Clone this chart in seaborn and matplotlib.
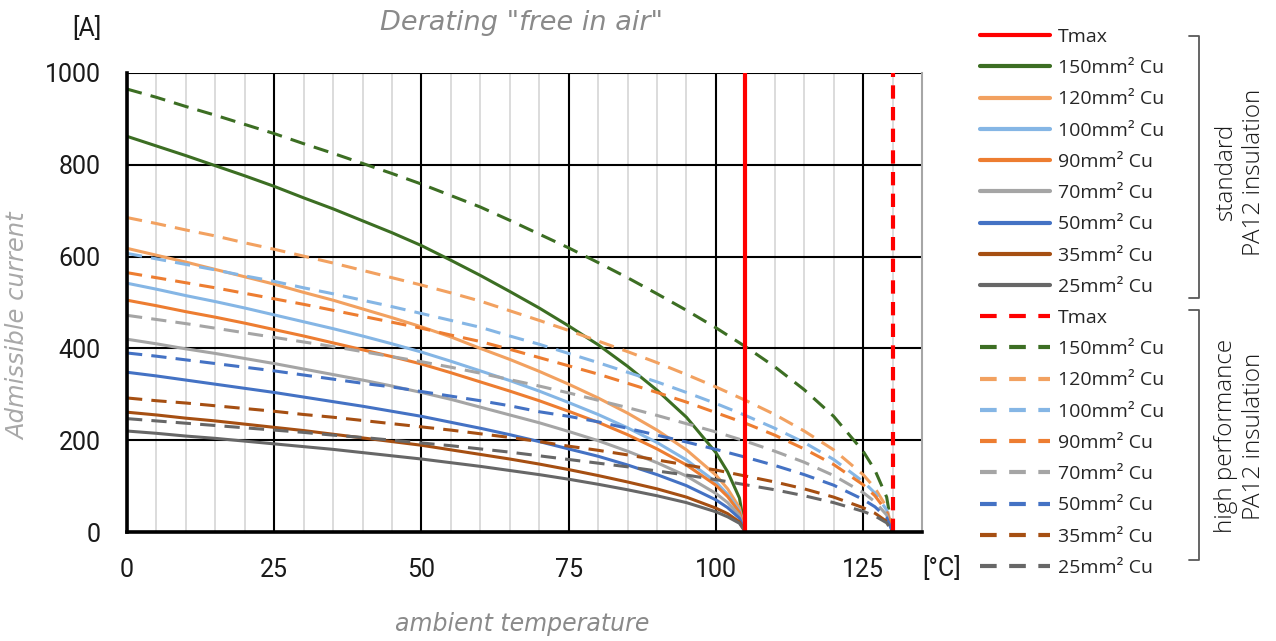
import matplotlib
matplotlib.use("Agg")
import matplotlib.pyplot as plt
from matplotlib.lines import Line2D
import pandas as pd
import seaborn as sns

# ---------------- data ----------------
temp_std = [0, 5, 10, 15, 20, 25, 30, 35, 40, 45, 50, 55, 60, 65, 70, 75,
            80, 85, 90, 95, 100, 102, 104, 105]
temp_hp = [0, 5, 10, 15, 20, 25, 30, 35, 40, 45, 50, 55, 60, 65, 70, 75,
           80, 85, 90, 95, 100, 105, 110, 115, 120, 125, 127, 129, 130]

sizes = ["150mm² Cu", "120mm² Cu", "100mm² Cu", "90mm² Cu",
         "70mm² Cu", "50mm² Cu", "35mm² Cu", "25mm² Cu"]
colors = ["#3c6e23", "#f2a160", "#85b6e5", "#ed7d31",
          "#a5a5a5", "#4472c4", "#a64f12", "#676767"]

std_150 = [862, 841, 820, 798, 776, 753, 728, 704, 678, 652, 624, 592, 559, 524,
           488, 449, 408, 361, 309, 250, 173, 131, 74, 0]
std_120 = [618, 603, 588, 572, 556, 540, 522, 505, 486, 467, 447, 425, 400, 376,
           350, 322, 292, 259, 222, 179, 124, 94, 53, 0]
std_100 = [542, 529, 515, 502, 488, 473, 458, 443, 427, 410, 392, 372, 351, 330,
           307, 282, 256, 227, 195, 157, 109, 82, 47, 0]
std_90 = [505, 493, 480, 468, 455, 441, 427, 412, 397, 382, 366, 347, 327, 307,
          286, 263, 239, 212, 181, 146, 102, 77, 43, 0]
std_70 = [420, 410, 399, 389, 378, 367, 355, 343, 331, 318, 304, 289, 272, 255,
          238, 219, 199, 176, 151, 122, 84, 64, 36, 0]
std_50 = [348, 340, 331, 322, 313, 304, 294, 284, 274, 263, 252, 239, 226, 212,
          197, 181, 165, 146, 125, 101, 70, 53, 30, 0]
std_35 = [261, 255, 248, 242, 235, 228, 221, 213, 205, 197, 189, 179, 169, 159,
          148, 136, 123, 109, 94, 76, 52, 40, 22, 0]
std_25 = [220, 215, 209, 204, 198, 192, 186, 180, 173, 166, 159, 151, 143, 134,
          125, 115, 104, 92, 79, 64, 44, 33, 19, 0]

hp_150 = [965, 947, 927, 908, 888, 868, 846, 825, 803, 781, 758, 733, 708, 679,
          649, 619, 587, 554, 519, 483, 445, 404, 360, 310, 252, 176, 135, 76, 0]
hp_120 = [685, 672, 658, 645, 630, 616, 601, 586, 570, 554, 538, 521, 503, 482,
          461, 439, 416, 393, 369, 343, 316, 287, 256, 220, 179, 125, 96, 54, 0]
hp_100 = [607, 595, 583, 571, 558, 546, 532, 519, 505, 491, 476, 461, 446, 427,
          409, 389, 369, 348, 327, 304, 280, 254, 226, 195, 158, 110, 85, 48, 0]
hp_90 = [565, 554, 543, 532, 520, 508, 496, 483, 470, 457, 444, 429, 415, 398,
         380, 362, 344, 324, 304, 283, 260, 237, 211, 181, 147, 103, 79, 45, 0]
hp_70 = [472, 463, 454, 444, 434, 424, 414, 404, 393, 382, 371, 359, 346, 332,
         318, 303, 287, 271, 254, 236, 218, 198, 176, 152, 123, 86, 66, 37, 0]
hp_50 = [390, 383, 375, 367, 359, 351, 342, 333, 324, 316, 306, 296, 286, 275,
         262, 252, 240, 226, 211, 196, 180, 163, 145, 125, 102, 71, 55, 31, 0]
hp_35 = [292, 286, 281, 275, 269, 263, 256, 250, 243, 236, 229, 222, 214, 206,
         197, 187, 178, 168, 157, 146, 135, 122, 109, 94, 76, 53, 41, 23, 0]
hp_25 = [247, 242, 237, 232, 227, 222, 217, 211, 206, 200, 194, 188, 181, 174,
         166, 158, 150, 142, 133, 124, 114, 103, 92, 79, 64, 45, 35, 20, 0]

tmax_std = 105
tmax_hp = 130

x_ticks = [0, 25, 50, 75, 100, 125]
x_minor = [5, 10, 15, 20, 30, 35, 40, 45, 55, 60, 65, 70, 80, 85, 90, 95,
           105, 110, 115, 120, 130]
y_ticks = [0, 200, 400, 600, 800, 1000]

std_series = [std_150, std_120, std_100, std_90, std_70, std_50, std_35, std_25]
hp_series = [hp_150, hp_120, hp_100, hp_90, hp_70, hp_50, hp_35, hp_25]

# ---------------- long-form table ----------------
rows = []
for name, vals in zip(sizes, std_series):
    for t, v in zip(temp_std, vals):
        rows.append((t, v, name, "standard"))
for name, vals in zip(sizes, hp_series):
    for t, v in zip(temp_hp, vals):
        rows.append((t, v, name, "high performance"))
df = pd.DataFrame(rows, columns=["temp", "current", "size", "insulation"])

# ---------------- figure ----------------
sns.set_theme(style="white")
plt.rcParams["font.family"] = ["Roboto", "DejaVu Sans"]

W, H = 1276, 641
fig = plt.figure(figsize=(W / 100, H / 100), dpi=100)


def fx(px):
    return px / W


def fy(py):
    return 1 - py / H


ax = fig.add_axes([fx(127), fy(532), fx(922) - fx(127), fy(73) - fy(532)])

DASH = (5, 3)
sns.lineplot(data=df, x="temp", y="current", hue="size", style="insulation",
             hue_order=sizes, palette=dict(zip(sizes, colors)),
             style_order=["standard", "high performance"],
             dashes={"standard": "", "high performance": DASH},
             estimator=None, sort=False, linewidth=2.2, legend=False,
             ax=ax, zorder=3)

ax.axvline(tmax_std, color="#ff0000", lw=3.0, zorder=4)
ax.axvline(tmax_hp, color="#ff0000", lw=3.0, linestyle=(0, (3.2, 2.0)), zorder=4)

ax.set_xlim(0, 135)
ax.set_ylim(0, 1000)
ax.set_xticks(x_ticks)
ax.set_xticks(x_minor, minor=True)
ax.set_yticks(y_ticks)
ax.set_xlabel("")
ax.set_ylabel("")

ax.grid(which="major", axis="both", color="black", lw=1.5, zorder=1)
ax.grid(which="minor", axis="x", color="#d9d9d9", lw=1.3, zorder=0)
ax.set_axisbelow(True)

ax.tick_params(axis="both", which="major", labelsize=18, length=7, width=2.5,
               color="black", direction="out", labelcolor="#1a1a1a")
ax.tick_params(axis="y", which="major", pad=12)
ax.tick_params(axis="x", which="major", pad=12)
ax.tick_params(axis="x", which="minor", length=0)

for side in ["left", "bottom"]:
    ax.spines[side].set_color("black")
    ax.spines[side].set_linewidth(2.6)
    ax.spines[side].set_zorder(5)
ax.spines["top"].set_visible(False)
ax.spines["right"].set_color("#a6a6a6")
ax.spines["right"].set_linewidth(1.5)

# ---------------- texts ----------------
lbl_font = ["DejaVu Sans"]
fig.text(fx(87), fy(29), "[A]", ha="center", va="center", fontsize=18,
         color="#1a1a1a")
fig.text(fx(942), fy(568), "[°C]", ha="center", va="center", fontsize=18,
         color="#1a1a1a")
fig.text(fx(521), fy(23), 'Derating "free in air"', ha="center", va="center",
         fontsize=19.5, style="italic", color="#8a8a8a", family=lbl_font)
fig.text(fx(522), fy(624), "ambient temperature", ha="center", va="center",
         fontsize=17, style="italic", color="#8a8a8a", family=lbl_font)
fig.text(fx(18), fy(326), "Admissible current", ha="center", va="center",
         rotation=90, fontsize=17.5, style="italic", color="#a8a8a8",
         family=lbl_font)

# ---------------- legend ----------------
handles, labels = [], []
handles.append(Line2D([], [], color="#ff0000", lw=3.0))
labels.append("Tmax")
for name, c in zip(sizes, colors):
    handles.append(Line2D([], [], color=c, lw=3.0))
    labels.append(name)
handles.append(Line2D([], [], color="#ff0000", lw=3.0, linestyle=(0, (4, 3))))
labels.append("Tmax")
for name, c in zip(sizes, colors):
    handles.append(Line2D([], [], color=c, lw=3.0, linestyle=(0, (4, 3))))
    labels.append(name)

fig.legend(handles, labels, loc="upper left",
           bbox_to_anchor=(fx(980), fy(28)), frameon=False,
           prop={"family": ["Open Sans", "DejaVu Sans"], "size": 14},
           handlelength=3.6, handletextpad=0.4, labelspacing=0.68,
           borderpad=0, borderaxespad=0, labelcolor="#262626")

# group brackets
br_col = "#595959"
for top, bot in [(36, 298), (310, 560)]:
    fig.add_artist(Line2D([fx(1189), fx(1199), fx(1199), fx(1189)],
                          [fy(top), fy(top), fy(bot), fy(bot)],
                          color=br_col, lw=1.3, transform=fig.transFigure))

grp_font = {"family": ["Open Sans", "DejaVu Sans"], "size": 17.5,
            "weight": "light"}
fig.text(fx(1240), fy(172), "standard\nPA12 insulation", rotation=90,
         ha="center", va="center", multialignment="center", linespacing=1.25,
         color="#1a1a1a", fontdict=grp_font)
fig.text(fx(1240), fy(436), "high performance\nPA12 insulation", rotation=90,
         ha="center", va="center", multialignment="center", linespacing=1.25,
         color="#1a1a1a", fontdict=grp_font)

fig.savefig("out.png", dpi=100)
